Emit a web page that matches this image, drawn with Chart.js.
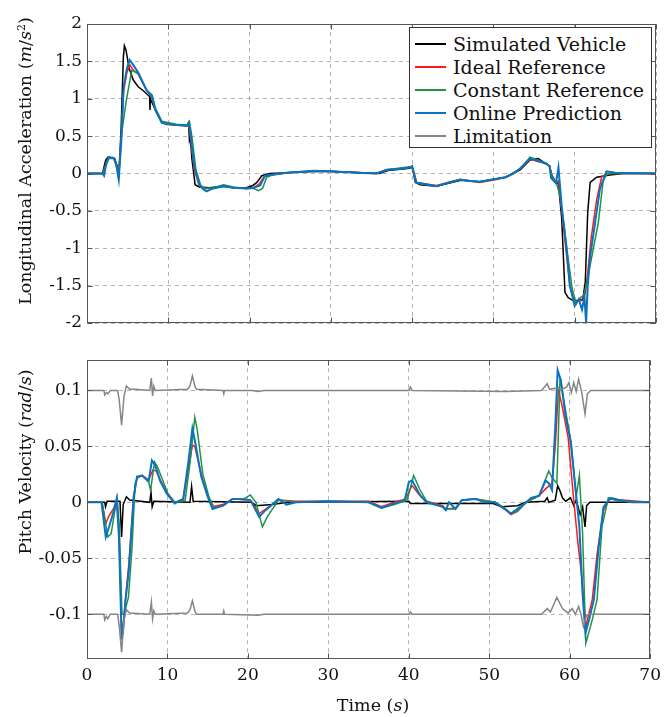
<!DOCTYPE html>
<html>
<head>
<meta charset="utf-8">
<script src="https://cdn.jsdelivr.net/npm/chart.js@4.4.1/dist/chart.umd.min.js"></script>
<style>
  body { margin: 0; background: #fff; width: 667px; height: 717px; overflow: hidden; position: relative; font-family: "DejaVu Serif", serif; color: #111; }
  canvas { position: absolute; left: 0; }
  #accChart { top: 0; }
  #pitchChart { top: 345px; }
  .ylab { position: absolute; width: 340px; height: 22px; line-height: 22px; text-align: center; font-size: 17.5px; transform: rotate(-90deg); white-space: nowrap; }
  .xlab { position: absolute; left: 273px; top: 694px; width: 200px; height: 22px; line-height: 22px; text-align: center; font-size: 17.5px; }
  sup { font-size: 11px; vertical-align: 6px; line-height: 0; }
  #legend { position: absolute; left: 409px; top: 27px; width: 243px; height: 121px; border: 1px solid #333; background: #fff; box-sizing: border-box; padding-top: 4px; }
  .row { display: flex; align-items: center; height: 23px; }
  .swatch { margin-left: 5px; width: 31px; height: 2px; }
  .txt { margin-left: 7px; font-size: 19px; white-space: nowrap; }
</style>
</head>
<body>
<canvas id="accChart" width="667" height="345"></canvas>
<canvas id="pitchChart" width="667" height="372"></canvas>
<div class="ylab" style="left:-145px;top:150px">Longitudinal Acceleration (<i>m</i>/<i>s</i><sup>2</sup>)</div>
<div class="ylab" style="left:-145px;top:451px">Pitch Velocity (<i>rad</i>/<i>s</i>)</div>
<div class="xlab">Time (<i>s</i>)</div>
<div id="legend"></div>
<script>
// axis ticks
const timeTicks = [0, 10, 20, 30, 40, 50, 60, 70];
const accTicks = [-2, -1.5, -1, -0.5, 0, 0.5, 1, 1.5, 2];
const pitchTicks = [-0.1, -0.05, 0, 0.05, 0.1];

const seriesLabels = ['Simulated Vehicle', 'Ideal Reference', 'Constant Reference', 'Online Prediction', 'Limitation'];
const seriesColors = ['#000000', '#ff1a1a', '#1e9346', '#0a72c0', '#858585'];

// longitudinal acceleration [time, value]
const simAcc = [[0,0],[1.9,0],[2.3,0.18],[2.6,0.22],[3.4,0.2],[3.7,0.1],[3.9,-0.06],[4.2,0.6],[4.47,1.55],[4.6,1.71],[4.8,1.65],[5.2,1.4],[5.7,1.25],[6.3,1.16],[7.0,1.1],[7.7,1.03],[7.75,0.85],[7.8,1.0],[8.2,0.9],[9.2,0.68],[10,0.66],[11,0.65],[12.3,0.64],[12.5,0.66],[12.6,0.45],[12.7,0.5],[12.9,0.2],[13.3,-0.15],[13.8,-0.18],[15,-0.19],[16.8,-0.17],[18,-0.19],[19.6,-0.19],[20.4,-0.16],[20.9,-0.12],[21.5,-0.03],[22.5,0.0],[24.6,0.01],[28,0.03],[32,0.02],[36,0.0],[37,0.04],[39.7,0.07],[40.0,0.09],[40.4,-0.12],[41,-0.15],[43,-0.17],[46,-0.09],[48.3,-0.11],[50.4,-0.07],[51.5,-0.05],[53.3,0.05],[54.5,0.18],[55.5,0.2],[56.5,0.13],[56.9,0.1],[57.2,-0.03],[57.7,-0.12],[58.0,-0.14],[58.4,-0.6],[58.8,-1.59],[59.2,-1.66],[59.8,-1.7],[60.5,-1.7],[61.0,-1.68],[61.3,-1.45],[61.6,-0.52],[61.9,-0.12],[62.7,-0.05],[64.3,-0.02],[66,0],[70,0]];
const idealAcc = [[0,0],[1.9,0],[2.4,0.15],[2.7,0.21],[3.3,0.2],[3.6,0.1],[3.9,-0.05],[4.2,0.45],[4.5,1.1],[4.9,1.35],[5.3,1.45],[5.7,1.38],[6.3,1.33],[7.3,1.12],[8.0,1.02],[8.4,0.85],[9.2,0.68],[11,0.65],[12.3,0.64],[12.5,0.66],[12.7,0.5],[13.2,0.05],[13.8,-0.16],[14.3,-0.2],[15.5,-0.2],[16.8,-0.16],[18,-0.19],[19.6,-0.2],[20.5,-0.19],[21.2,-0.14],[21.8,-0.04],[22.5,-0.02],[24.6,0.01],[27.9,0.03],[30,0.03],[35.6,0.0],[36.9,0.05],[39.7,0.08],[40.0,0.08],[40.5,-0.12],[43,-0.16],[45.9,-0.08],[48.3,-0.12],[50.4,-0.08],[51.5,-0.05],[53.3,0.06],[54.5,0.19],[56.5,0.13],[56.9,0.1],[57.2,-0.05],[57.7,-0.12],[58.0,-0.1],[58.4,-0.5],[59.0,-1.1],[59.4,-1.5],[60.0,-1.72],[60.5,-1.7],[61.0,-1.7],[61.3,-1.6],[61.6,-1.33],[62.0,-0.88],[62.7,-0.35],[63.3,-0.05],[63.9,0.0],[70,0]];
const constAcc = [[0,0],[1.9,0],[2.4,0.12],[2.7,0.2],[3.3,0.2],[3.6,0.12],[3.9,0.0],[4.26,0.54],[4.8,0.95],[5.5,1.38],[5.9,1.36],[6.3,1.34],[7.3,1.12],[8.0,1.05],[8.4,0.88],[9.2,0.7],[11,0.66],[12.3,0.65],[12.6,0.7],[12.9,0.5],[13.4,0.05],[14.0,-0.16],[14.5,-0.2],[15.5,-0.19],[16.8,-0.15],[18,-0.18],[19.6,-0.2],[20.5,-0.2],[21.1,-0.23],[21.6,-0.2],[22.1,-0.05],[22.8,-0.02],[24.6,0.01],[27.9,0.04],[30,0.03],[35.6,0.0],[36.9,0.05],[39.7,0.09],[40.0,0.09],[40.6,-0.13],[43,-0.17],[45.9,-0.08],[48.3,-0.11],[50.4,-0.07],[51.5,-0.05],[53.3,0.06],[54.5,0.22],[56.5,0.14],[56.9,0.1],[57.2,-0.05],[57.7,-0.11],[58.2,-0.3],[58.7,-0.7],[59.2,-1.15],[59.7,-1.55],[60.2,-1.74],[60.7,-1.66],[61.1,-1.63],[61.5,-1.45],[62.3,-1.0],[62.9,-0.66],[63.5,-0.1],[64.0,0.0],[70,0]];
const onlineAcc = [[0,0],[1.9,0],[2.1,-0.03],[2.4,0.15],[2.7,0.22],[3.3,0.21],[3.6,0.12],[3.9,-0.08],[4.2,0.4],[4.5,1.15],[4.9,1.4],[5.25,1.52],[5.7,1.45],[6.3,1.35],[7.3,1.12],[8.0,1.03],[8.4,0.85],[9.2,0.68],[9.8,0.66],[11,0.65],[12.3,0.64],[12.5,0.68],[12.7,0.55],[13.2,0.1],[13.8,-0.15],[14.3,-0.21],[14.7,-0.24],[15.5,-0.2],[16.8,-0.17],[18,-0.19],[19.6,-0.2],[20.5,-0.19],[21.3,-0.16],[21.9,-0.03],[22.5,-0.02],[24.6,0.01],[26,0.02],[27.9,0.03],[30,0.03],[33,0.01],[35.6,0.0],[36.9,0.05],[38.5,0.06],[39.7,0.08],[40.0,0.1],[40.5,-0.12],[41.5,-0.14],[43,-0.17],[44.5,-0.12],[45.9,-0.08],[47,-0.1],[48.3,-0.11],[50.4,-0.07],[51.5,-0.05],[52.5,0.0],[53.3,0.07],[54.5,0.2],[55.5,0.17],[56.5,0.13],[56.9,0.1],[57.1,-0.06],[57.7,-0.13],[58.0,0.08],[58.4,-0.44],[59.0,-1.01],[59.4,-1.5],[60.0,-1.77],[60.5,-1.68],[60.9,-1.82],[61.2,-1.65],[61.4,-2.0],[61.6,-1.5],[61.9,-1.11],[62.5,-0.66],[63.1,-0.21],[63.9,0.03],[65,0.01],[70,0]];

// pitch velocity [time, value]
const simPitch = [[0,0],[2.2,0],[2.3,-0.004],[2.5,0.001],[4.1,0.001],[4.3,-0.031],[4.5,-0.002],[4.9,0.005],[5.3,0.002],[7.8,0],[7.95,0.009],[8.1,-0.004],[8.3,0.001],[12.8,0],[13.0,0.014],[13.2,0.001],[20.5,0],[21,-0.003],[23,-0.002],[25,0],[40.0,0.001],[40.2,-0.001],[45,-0.001],[50.5,-0.001],[51.5,-0.004],[53.5,-0.003],[54.5,0],[56.9,0.001],[57.2,0.004],[57.4,0],[58.2,0.002],[58.5,0.015],[58.8,0.01],[59.1,0.004],[59.5,0.001],[60.1,0.004],[60.5,-0.003],[60.8,0.002],[61.3,-0.011],[61.6,-0.004],[61.9,-0.022],[62.1,-0.003],[62.5,0],[70,0]];
const idealPitch = [[0,0],[1.8,0],[2.0,-0.005],[2.33,-0.019],[2.74,-0.012],[3.35,-0.005],[3.68,0.002],[3.97,-0.02],[4.3,-0.114],[4.5,-0.11],[4.8,-0.085],[5.2,-0.055],[5.8,0.006],[6.22,0.022],[6.84,0.024],[7.66,0.02],[8.2,0.029],[8.6,0.028],[9.1,0.02],[9.9,0.009],[10.9,0.0],[11.96,0.003],[12.6,0.03],[13.1,0.051],[13.4,0.05],[14.2,0.025],[15.0,0.006],[15.6,-0.004],[16.9,-0.002],[18.1,0.003],[20.3,0.002],[21.4,-0.01],[22.2,-0.006],[23.8,0.002],[26,0.001],[30,0.001],[35,0.001],[36.6,-0.004],[38.2,0],[39.6,0.003],[40.4,0.015],[41.4,0.006],[42.2,0.001],[44.2,-0.003],[44.6,-0.006],[45.8,-0.005],[46.6,0.002],[48.3,0.003],[50.7,0],[51.9,-0.006],[52.7,-0.011],[53.5,-0.008],[54.6,0],[56.2,0.006],[57.0,0.012],[57.8,0.017],[58.2,0.05],[58.6,0.1],[59.0,0.088],[59.8,0.058],[60.5,0.002],[61.0,-0.035],[61.5,-0.067],[62.0,-0.111],[62.8,-0.087],[63.4,-0.046],[64.2,-0.007],[65.0,0.003],[70,0]];
const constPitch = [[0,0],[1.9,0],[2.1,-0.01],[2.6,-0.031],[3.0,-0.028],[3.4,-0.01],[3.75,0.004],[4.0,-0.02],[4.35,-0.1],[4.6,-0.1],[5.15,-0.085],[5.6,-0.04],[5.98,0.017],[6.3,0.022],[6.84,0.024],[7.66,0.018],[7.9,0.011],[8.4,0.036],[8.8,0.031],[9.4,0.02],[10.1,0.007],[10.9,0],[12.2,0.002],[12.8,0.035],[13.4,0.076],[13.7,0.065],[14.4,0.025],[15.2,0.004],[15.8,-0.005],[16.9,-0.003],[18.1,0.003],[19.5,0.003],[20.3,0.0066],[21.0,0.0],[21.8,-0.022],[22.4,-0.013],[23.8,0.002],[26,0],[30,0.001],[35,0],[36.6,-0.005],[38.2,-0.002],[39.8,0.002],[40.6,0.024],[41.4,0.011],[42.2,0.001],[44.2,-0.004],[44.6,-0.006],[45.8,-0.006],[46.6,0.002],[48.3,0.003],[50.7,0],[51.9,-0.005],[52.7,-0.01],[53.5,-0.008],[54.6,0],[56.2,0.006],[57.4,0.028],[57.8,0.022],[58.4,0.017],[58.8,0.112],[59.2,0.094],[60.2,0.052],[60.8,0.005],[61.2,0.024],[61.6,-0.028],[62.0,-0.126],[62.8,-0.105],[63.4,-0.087],[64.0,-0.022],[64.8,0.004],[66,0.001],[70,0]];
const onlinePitch = [[0,0],[1.8,0],[1.92,-0.007],[2.33,-0.031],[2.74,-0.022],[3.35,-0.007],[3.68,0.003],[3.97,-0.031],[4.3,-0.12],[4.46,-0.117],[4.79,-0.0875],[5.2,-0.061],[5.81,0.005],[6.22,0.023],[6.84,0.024],[7.66,0.019],[8.07,0.0375],[8.48,0.033],[9.1,0.019],[9.9,0.008],[10.9,-0.001],[11.96,0.003],[12.58,0.035],[13.1,0.066],[13.4,0.0555],[14.2,0.023],[15.0,0.005],[15.6,-0.006],[16.9,-0.003],[18.1,0.003],[18.9,0.003],[20.3,0.002],[21.4,-0.013],[22.2,-0.007],[23.8,0.003],[24.8,-0.002],[26,0],[30,0.001],[35,0],[36.6,-0.005],[38.2,-0.001],[39.5,0.002],[40.0,0.018],[40.4,0.0196],[41.4,0.0063],[42.2,0],[44.2,-0.004],[44.6,-0.007],[45.0,0],[45.8,-0.006],[46.6,0.002],[48.3,0.003],[49.5,0],[50.7,0],[51.9,-0.006],[52.7,-0.01],[53.3,-0.007],[54.6,0],[55.2,0.004],[56.2,0.006],[57.0,0.0196],[57.4,0.017],[57.8,0.011],[58.2,0.067],[58.5,0.118],[58.9,0.109],[59.5,0.076],[60.1,0.055],[60.7,0.0135],[61.2,-0.022],[61.6,-0.082],[61.96,-0.117],[62.4,-0.105],[63.0,-0.087],[63.6,-0.04],[64.2,-0.004],[65.1,0.004],[66.1,0.002],[67.7,0],[70,0]];
const limitUpper = [[0,0.1],[2.1,0.1],[2.2,0.096],[2.4,0.098],[2.6,0.097],[2.9,0.1],[3.8,0.1],[4.0,0.092],[4.3,0.069],[4.6,0.095],[4.9,0.104],[5.3,0.101],[6,0.101],[7.8,0.1],[8.0,0.111],[8.15,0.095],[8.3,0.104],[8.5,0.1],[12.5,0.101],[12.8,0.104],[13.1,0.113],[13.4,0.104],[13.6,0.101],[16.9,0.1],[17.0,0.097],[17.1,0.1],[20.5,0.1],[21.3,0.099],[22,0.1],[40.0,0.1],[40.2,0.103],[40.4,0.1],[52,0.099],[56.5,0.1],[57.2,0.106],[57.5,0.101],[58.1,0.102],[59.0,0.101],[59.6,0.103],[59.9,0.107],[60.2,0.098],[60.5,0.107],[60.8,0.099],[61.1,0.11],[61.5,0.098],[61.9,0.079],[62.2,0.097],[62.6,0.1],[70,0.1]];
const limitLower = [[0,-0.1],[2.1,-0.1],[2.2,-0.105],[2.4,-0.102],[2.6,-0.104],[2.9,-0.1],[3.8,-0.1],[4.0,-0.11],[4.3,-0.134],[4.6,-0.105],[4.9,-0.096],[5.3,-0.099],[7.8,-0.1],[8.0,-0.089],[8.15,-0.104],[8.3,-0.097],[8.5,-0.1],[12.5,-0.099],[12.8,-0.096],[13.1,-0.088],[13.4,-0.097],[13.6,-0.1],[16.9,-0.1],[17.0,-0.097],[17.1,-0.1],[21.3,-0.101],[22,-0.1],[40.0,-0.1],[40.2,-0.098],[40.4,-0.1],[56.5,-0.1],[57.2,-0.095],[57.6,-0.098],[58.4,-0.085],[59.1,-0.095],[59.8,-0.099],[60.3,-0.095],[60.7,-0.1],[61.1,-0.093],[61.4,-0.1],[61.7,-0.111],[62.1,-0.101],[62.5,-0.1],[70,-0.1]];

const tickFont = { family: 'DejaVu Serif', size: 17 };

function pts(arr) {
    return arr.map(([x, y]) => ({ x, y }));
}

function line(i, data, width) {
    return {
        label: seriesLabels[i],
        data: pts(data),
        borderColor: seriesColors[i],
        backgroundColor: seriesColors[i],
        borderWidth: width || 1.5,
        pointRadius: 0,
        tension: 0,
        fill: false,
        order: 5 - i
    };
}

// box around the plot with small inward ticks, like the matlab axes
const frame = {
    id: 'frame',
    afterDraw(chart) {
        const { ctx, chartArea: a, scales } = chart;
        const l = Math.round(a.left) + 0.5, r = Math.round(a.right) - 0.5;
        const t = Math.round(a.top) + 0.5, b = Math.round(a.bottom) - 0.5;
        ctx.save();
        ctx.strokeStyle = '#555';
        ctx.lineWidth = 1;
        ctx.strokeRect(l, t, r - l, b - t);
        ctx.beginPath();
        scales.x.ticks.forEach(tk => {
            const px = Math.round(scales.x.getPixelForValue(tk.value)) + 0.5;
            ctx.moveTo(px, b); ctx.lineTo(px, b - 5);
            ctx.moveTo(px, t); ctx.lineTo(px, t + 5);
        });
        scales.y.ticks.forEach(tk => {
            const py = Math.round(scales.y.getPixelForValue(tk.value)) + 0.5;
            ctx.moveTo(l, py); ctx.lineTo(l + 5, py);
            ctx.moveTo(r, py); ctx.lineTo(r - 5, py);
        });
        ctx.stroke();
        ctx.restore();
    }
};

function makeChart(id, datasets, yMin, yMax, yTicks, showX, padding) {
    return new Chart(document.getElementById(id), {
        type: 'line',
        data: { datasets },
        options: {
            responsive: false,
            animation: false,
            events: [],
            layout: { padding },
            plugins: { legend: { display: false }, tooltip: { enabled: false } },
            scales: {
                x: {
                    type: 'linear',
                    min: 0,
                    max: 70,
                    afterBuildTicks: s => { s.ticks = timeTicks.map(v => ({ value: v })); },
                    afterFit: s => { s.height = showX ? 58 : 22; },
                    grid: { color: '#a0a0a0', lineWidth: 0.8, drawTicks: false },
                    border: { display: false, dash: [4, 4] },
                    ticks: { display: showX, padding: 6, font: tickFont, color: '#111', maxRotation: 0 }
                },
                y: {
                    type: 'linear',
                    min: yMin,
                    max: yMax,
                    afterBuildTicks: s => { s.ticks = yTicks.map(v => ({ value: v })); },
                    afterFit: s => { s.width = 87; },
                    grid: { color: '#a0a0a0', lineWidth: 0.8, drawTicks: false },
                    border: { display: false, dash: [4, 4] },
                    ticks: {
                        padding: 5,
                        font: tickFont,
                        color: '#111',
                        callback: v => String(Math.round(v * 1000) / 1000)
                    }
                }
            }
        },
        plugins: [frame]
    });
}

makeChart('accChart', [
    line(0, simAcc),
    line(1, idealAcc),
    line(2, constAcc),
    line(3, onlineAcc, 2)
], -2, 2, accTicks, false, { top: 24, right: 11, bottom: 0, left: 0 });

makeChart('pitchChart', [
    line(0, simPitch),
    line(1, idealPitch),
    line(2, constPitch),
    line(3, onlinePitch, 2),
    line(4, limitUpper),
    line(4, limitLower)
], -0.14, 0.127, pitchTicks, true, { top: 15, right: 11, bottom: 0, left: 0 });

// legend box inside the upper axes
const legend = document.getElementById('legend');
seriesLabels.forEach((name, i) => {
    const row = document.createElement('div');
    row.className = 'row';
    row.innerHTML = '<span class="swatch" style="background:' + seriesColors[i] + '"></span><span class="txt">' + name + '</span>';
    legend.appendChild(row);
});
</script>
</body>
</html>
